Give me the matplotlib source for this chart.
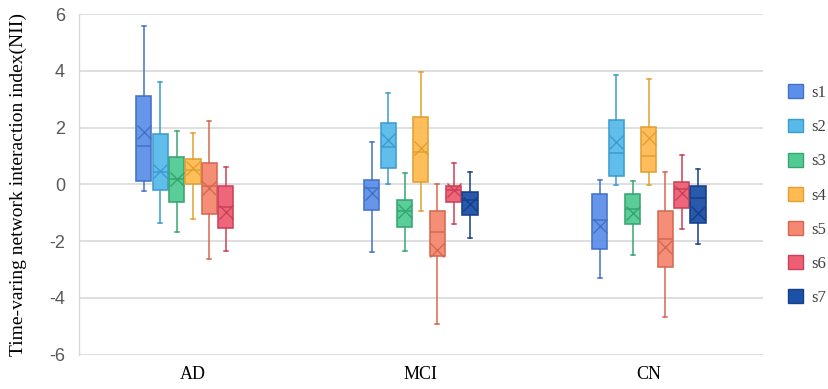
import numpy as np
import matplotlib.pyplot as plt
from matplotlib.patches import Patch

groups = ["AD", "MCI", "CN"]
series = ["s1", "s2", "s3", "s4", "s5", "s6", "s7"]

# box statistics, one row per series, columns AD/MCI/CN
# (AD has no s7 box)
whishi = [[5.59, 1.50, 0.16], [3.61, 3.23, 3.86], [1.89, 0.39, 0.13], [1.82, 3.96, 3.70],
          [2.24, 0.01, 0.44], [0.62, 0.74, 1.02], [None, 0.42, 0.54]]
q3 = [[3.10, 0.16, -0.34], [1.76, 2.17, 2.28], [0.96, -0.54, -0.34], [0.90, 2.36, 2.01],
      [0.74, -0.92, -0.92], [-0.06, -0.06, 0.09], [None, -0.28, -0.06]]
med = [[1.36, -0.12, -1.26], [0.45, 1.31, 1.09], [0.20, -0.95, -0.86], [0.52, 1.15, 1.01],
       [-0.05, -1.67, -1.94], [-0.79, -0.20, -0.18], [None, -0.55, -0.47]]
mean = [[1.83, -0.32, -1.46], [0.48, 1.58, 1.51], [0.19, -0.95, -1.02], [0.56, 1.27, 1.63],
        [-0.12, -2.31, -2.20], [-0.99, -0.20, -0.32], [None, -0.69, -1.02]]
q1 = [[0.13, -0.91, -2.27], [-0.20, 0.56, 0.29], [-0.61, -1.51, -1.41], [0.03, 0.09, 0.43],
      [-1.05, -2.53, -2.90], [-1.54, -0.63, -0.83], [None, -1.09, -1.37]]
whislo = [[-0.22, -2.38, -3.28], [-1.36, 0.01, -0.02], [-1.68, -2.35, -2.49], [-1.21, -0.93, -0.02],
          [-2.64, -4.90, -4.66], [-2.35, -1.40, -1.56], [None, -1.88, -2.09]]

face_colors = ["#5E8FE8", "#58BAE8", "#52CB93", "#FFBB52", "#F48870", "#EE5E74", "#1C51A8"]
edge_colors = ["#4272C8", "#3C9BD2", "#36A570", "#E0A032", "#D66850", "#CC4058", "#153F88"]

plt.rcParams['font.family'] = ['Liberation Serif', 'DejaVu Serif']
plt.rcParams['axes.unicode_minus'] = False

fig = plt.figure(figsize=(8.29, 3.89), dpi=100)
ax = fig.add_axes([0.0953, 0.088, 0.825, 0.876])

step = 0.0717
width = 0.066
for j, name in enumerate(series):
    stats = []
    pos = []
    for g in range(len(groups)):
        if whishi[j][g] is None:
            continue
        stats.append(dict(med=med[j][g], q1=q1[j][g], q3=q3[j][g], whislo=whislo[j][g],
                          whishi=whishi[j][g], mean=mean[j][g], fliers=[]))
        pos.append(g + (j - 3) * step)
    ec = edge_colors[j]
    ax.bxp(stats, positions=pos, widths=width, patch_artist=True, showmeans=True,
           boxprops=dict(facecolor=face_colors[j], edgecolor=ec, linewidth=1.2, alpha=0.95),
           medianprops=dict(color=ec, linewidth=1.1),
           whiskerprops=dict(color=ec, linewidth=1.1),
           capprops=dict(color=ec, linewidth=1.1),
           capwidths=0.018,
           meanprops=dict(marker='x', markeredgecolor=ec, markersize=10, markeredgewidth=1.0),
           zorder=3)

ax.set_xlim(-0.5, 2.5)
ax.set_ylim(-6, 6)
ax.set_yticks(np.arange(-6, 7, 2))
ax.set_xticks(range(len(groups)))
ax.set_xticklabels(groups, fontsize=13)
for lab in ax.get_yticklabels():
    lab.set_family(['Liberation Sans', 'DejaVu Sans'])
    lab.set_fontsize(13)
    lab.set_color('#595959')
ax.tick_params(axis='both', length=0, pad=8)
ax.tick_params(axis='y', pad=10)
ax.grid(axis='y', color='#d9d9d9', linewidth=1.2, zorder=0)
ax.set_axisbelow(True)
for s in ['top', 'right', 'bottom']:
    ax.spines[s].set_visible(False)
ax.spines['left'].set_color('#d9d9d9')
ax.spines['left'].set_linewidth(1.0)

ax.set_ylabel("Time-varing network interaction index(NII)", fontsize=14, labelpad=16)

handles = [Patch(facecolor=face_colors[j], edgecolor=edge_colors[j], label=series[j])
           for j in range(len(series))]
leg = ax.legend(handles=handles, loc='center left', bbox_to_anchor=(1.015, 0.468), frameon=False,
                fontsize=12, handlelength=0.9, handleheight=0.9, labelspacing=1.05,
                handletextpad=0.5)
for t in leg.get_texts():
    t.set_color('#404040')

fig.savefig("out.png", dpi=100)
